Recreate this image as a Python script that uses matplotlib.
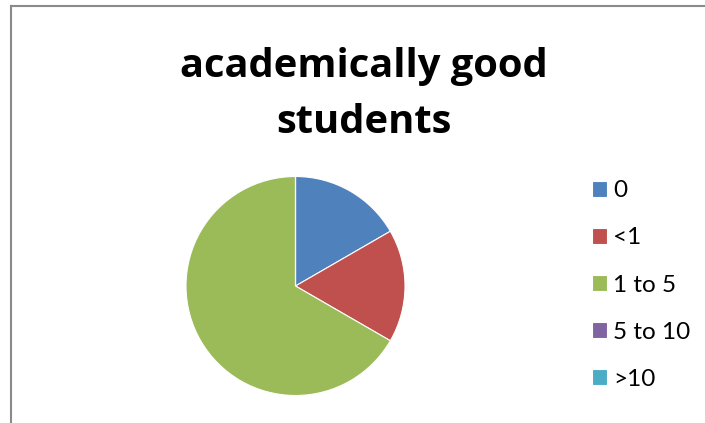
import matplotlib
matplotlib.use("Agg")
import matplotlib.pyplot as plt
from matplotlib.lines import Line2D

# hours spent per week, share of academically good students
categories = ["0", "<1", "1 to 5", "5 to 10", ">10"]
counts = [1, 1, 4, 0, 0]
colors = ["#4F81BD", "#C0504D", "#9BBB59", "#8064A2", "#4BACC6"]
title_lines = ["academically good", "students"]

W, H = 705, 423
fig = plt.figure(figsize=(W / 100, H / 100), dpi=100)
fig.patch.set_facecolor("white")

# chart frame (left and top edge visible, like the excel chart border)
border = "#8a8a8a"
fig.add_artist(Line2D([11 / W, 11 / W], [0, 1 - 6 / H], color=border, lw=1.5,
                      transform=fig.transFigure))
fig.add_artist(Line2D([11 / W, 1], [1 - 6 / H, 1 - 6 / H], color=border, lw=1.5,
                      transform=fig.transFigure))

# pie centred at (295, 286) px with radius ~109 px
cx, cy, r = 295.5, 286, 109.5
ax = fig.add_axes([(cx - r) / W, (H - cy - r) / H, 2 * r / W, 2 * r / H])
wedges, _ = ax.pie(counts, colors=colors, startangle=90, counterclock=False,
                   wedgeprops=dict(edgecolor="white", linewidth=0.8))
ax.set_xlim(-1, 1)
ax.set_ylim(-1, 1)
ax.set_aspect("equal")

# title, two lines, bold; size fitted to the line width in the reference
title_font = "Open Sans"
t1 = fig.text(364 / W, 1 - 77 / H, title_lines[0], ha="center", va="baseline",
              fontsize=10, fontweight="bold", family=title_font)
fig.canvas.draw()
w10 = t1.get_window_extent().width
size = 10 * 368 / w10
t1.set_fontsize(size)
fig.text(364 / W, 1 - 133 / H, title_lines[1], ha="center", va="baseline",
         fontsize=size, fontweight="bold", family=title_font)

leg = fig.legend(wedges, categories, loc="center left",
                 bbox_to_anchor=(592 / W, 1 - 285 / H), frameon=False,
                 borderpad=0, borderaxespad=0, handlelength=0.62,
                 handleheight=0.62, handletextpad=0.25, labelspacing=1.07,
                 prop=dict(family="Lato", size=17.5))

fig.savefig("out.png", dpi=100)
